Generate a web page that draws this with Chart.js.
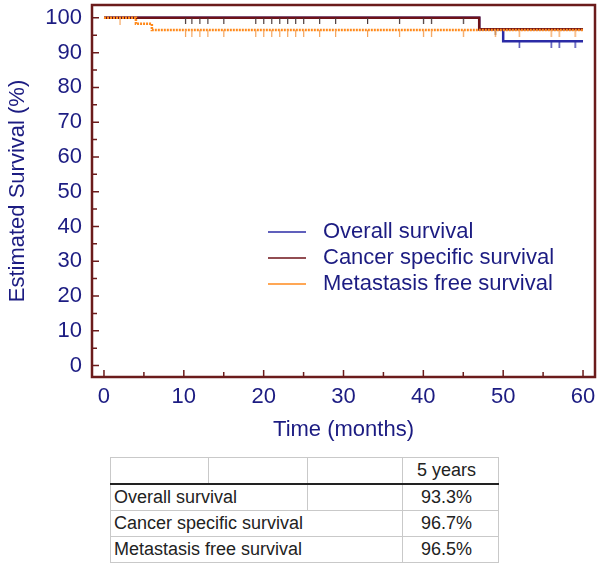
<!DOCTYPE html>
<html>
<head>
<meta charset="utf-8">
<script src="https://cdn.jsdelivr.net/npm/chart.js@4/dist/chart.umd.min.js"></script>
<style>
  body { margin: 0; background: #fff; width: 600px; height: 565px; position: relative; overflow: hidden; font-family: "Liberation Sans", Arial, sans-serif; }
  #wrap { position: absolute; left: 0; top: 0; width: 600px; height: 450px; }
  #tbl { position: absolute; left: 110px; top: 457px; border-collapse: collapse; table-layout: fixed; font-size: 18px; color: #222; }
  #tbl td { border: 1px solid #c9c9c9; height: 25px; padding: 0 0 0 3px; white-space: nowrap; line-height: 25px; }
  #tbl td.v { text-align: center; padding: 0 8px 0 0; }
  #tbl tr.head td { border-bottom: 2px solid #222; }
</style>
</head>
<body>
<div id="wrap"><canvas id="km" width="600" height="450"></canvas></div>
<table id="tbl">
  <colgroup><col style="width:98px"><col style="width:99px"><col style="width:95px"><col style="width:96px"></colgroup>
  <tbody id="tbody"></tbody>
</table>
<script>
// Kaplan-Meier step points (time in months, survival %)
const overallTimes = [0, 47, 50, 60];
const overallSurv  = [100, 96.7, 93.3, 93.3];
const cancerTimes  = [0, 47, 60];
const cancerSurv   = [100, 96.7, 96.7];
const metaTimes    = [0, 4, 6, 60];
const metaSurv     = [100, 98.3, 96.5, 96.5];

// censored observations (months)
const overallCensor = [52, 56, 57, 59];
const cancerCensor  = [10.2, 11, 12, 13, 15, 19, 20, 21, 22, 23, 24, 25, 27, 29, 33, 37, 40, 41, 45, 49];
const metaCensor    = [2, 10.2, 11, 12, 13, 15, 19, 20, 21, 22, 23, 24, 25, 27, 29, 33, 37, 40, 41, 45, 49, 52, 56, 57, 59];

const seriesLabels = ["Overall survival", "Cancer specific survival", "Metastasis free survival"];
const fiveYear = ["93.3%", "96.7%", "96.5%"];

const xTicks = [0, 10, 20, 30, 40, 50, 60];
const yTicks = [0, 10, 20, 30, 40, 50, 60, 70, 80, 90, 100];

const navy = '#1c1c82';
const blue = '#2b2ba6';
const maroon = '#6e1218';
const orange = '#ff8a1c';

function steps(times, surv) {
  return times.map((t, i) => ({ x: t, y: surv[i] }));
}
function survAt(times, surv, t) {
  let s = surv[0];
  for (let i = 0; i < times.length; i++) if (times[i] <= t) s = surv[i];
  return s;
}
function censorPts(list, times, surv) {
  return list.map(t => ({ x: t, y: survAt(times, surv, t) }));
}
// small vertical tick that hangs below the point
function tickMark(color, len) {
  const c = document.createElement('canvas');
  c.width = 3; c.height = len * 2;
  const g = c.getContext('2d');
  g.fillStyle = color;
  g.fillRect(1, len, 1.2, len);
  return c;
}

const framePlugin = {
  id: 'frame',
  afterDraw(chart) {
    const { ctx, chartArea: a, scales: { x, y } } = chart;
    ctx.save();
    ctx.strokeStyle = '#6b1b1b';
    ctx.lineWidth = 1.5;
    ctx.beginPath();
    for (let v = xTicks[0]; v <= xTicks[xTicks.length - 1]; v += 5) {
      const px = x.getPixelForValue(v);
      ctx.moveTo(px, a.bottom); ctx.lineTo(px, a.bottom - (v % 10 ? 5 : 7));
    }
    for (let v = yTicks[0]; v <= yTicks[yTicks.length - 1]; v += 5) {
      const py = y.getPixelForValue(v);
      ctx.moveTo(a.left, py); ctx.lineTo(a.left + (v % 10 ? 5 : 7), py);
    }
    ctx.stroke();
    ctx.lineWidth = 2.5;
    ctx.strokeRect(a.left, a.top, a.right - a.left, a.bottom - a.top);

    // legend inside the plot
    const cols = [blue, maroon, orange];
    ctx.font = '22px "Liberation Sans", Arial, sans-serif';
    ctx.textBaseline = 'middle';
    ctx.fillStyle = navy;
    seriesLabels.forEach((lab, i) => {
      const ly = 232 + i * 26;
      ctx.strokeStyle = cols[i];
      ctx.lineWidth = 1.5;
      ctx.beginPath(); ctx.moveTo(268, ly); ctx.lineTo(306, ly); ctx.stroke();
      ctx.fillText(lab, 323, ly);
    });
    ctx.restore();
  }
};

new Chart(document.getElementById('km'), {
  type: 'line',
  data: {
    datasets: [
      { label: seriesLabels[0], data: steps(overallTimes, overallSurv), borderColor: blue, borderWidth: 2.5, stepped: true, pointRadius: 0, order: 6 },
      { label: 'oc', type: 'scatter', data: censorPts(overallCensor, overallTimes, overallSurv), pointStyle: tickMark(blue, 7), order: 5 },
      { label: seriesLabels[1], data: steps(cancerTimes, cancerSurv), borderColor: maroon, borderWidth: 2.5, stepped: true, pointRadius: 0, order: 4 },
      { label: 'cc', type: 'scatter', data: censorPts(cancerCensor, cancerTimes, cancerSurv), pointStyle: tickMark('#4a3a3a', 6), order: 3 },
      { label: seriesLabels[2], data: steps(metaTimes, metaSurv), borderColor: orange, borderWidth: 2.5, borderDash: [2, 1], stepped: true, pointRadius: 0, order: 2 },
      { label: 'mc', type: 'scatter', data: censorPts(metaCensor, metaTimes, metaSurv), pointStyle: tickMark('#f5a055', 7), order: 1 }
    ]
  },
  options: {
    responsive: false,
    animation: false,
    events: [],
    layout: { autoPadding: false, padding: { top: 5, right: 5, left: 0, bottom: 0 } },
    plugins: { legend: { display: false }, tooltip: { enabled: false } },
    scales: {
      x: {
        type: 'linear', min: -1.5, max: 61.5,
        afterBuildTicks: s => { s.ticks = xTicks.map(v => ({ value: v })); },
        afterFit: s => { s.height = 73; s.paddingLeft = 0; s.paddingRight = 0; },
        grid: { display: false, drawTicks: false },
        border: { display: false },
        ticks: { color: navy, padding: 7, font: { family: '"Liberation Sans", Arial', size: 22 } },
        title: { display: true, text: 'Time (months)', color: navy, padding: { top: 0, bottom: 7 }, font: { family: '"Liberation Sans", Arial', size: 22 } }
      },
      y: {
        min: -3.3, max: 103.7,
        afterBuildTicks: s => { s.ticks = yTicks.map(v => ({ value: v })); },
        afterFit: s => { s.width = 92; s.paddingTop = 0; s.paddingBottom = 0; },
        grid: { display: false, drawTicks: false },
        border: { display: false },
        ticks: { color: navy, padding: 10, font: { family: '"Liberation Sans", Arial', size: 22 } },
        title: { display: true, text: 'Estimated Survival (%)', color: navy, padding: { top: 5, bottom: 0 }, font: { family: '"Liberation Sans", Arial', size: 22 } }
      }
    }
  },
  plugins: [framePlugin]
});

// results table
const tb = document.getElementById('tbody');
let html = '<tr class="head"><td></td><td></td><td></td><td class="v">5 years</td></tr>';
seriesLabels.forEach((lab, i) => {
  html += i === 0
    ? `<tr><td colspan="2">${lab}</td><td></td><td class="v">${fiveYear[i]}</td></tr>`
    : `<tr><td colspan="3">${lab}</td><td class="v">${fiveYear[i]}</td></tr>`;
});
tb.innerHTML = html;
</script>
</body>
</html>
